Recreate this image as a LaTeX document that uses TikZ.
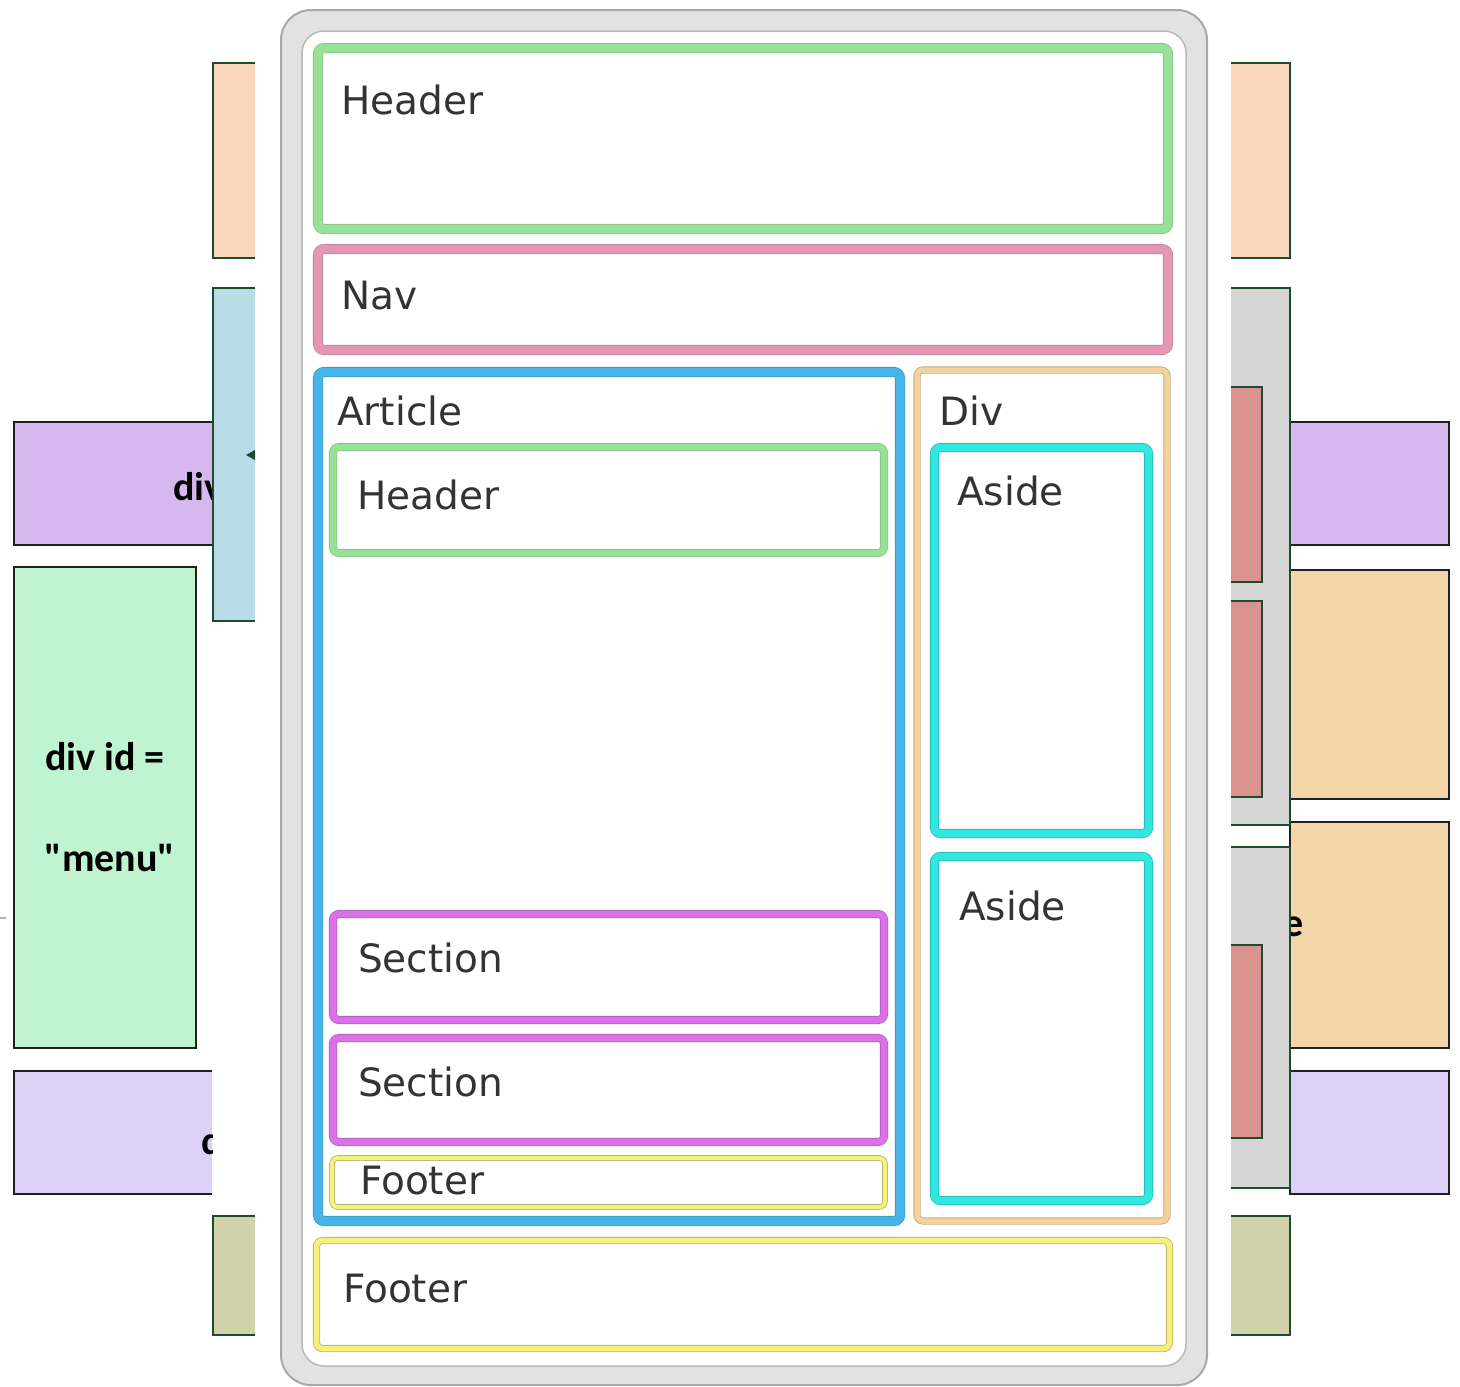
\documentclass[tikz,border=0pt]{standalone}
\usepackage{fontspec}
\setmainfont{DejaVu Sans}
\newfontfamily\calfont{Carlito}
\definecolor{peach}{HTML}{FAD7BC}
\definecolor{lblue}{HTML}{B8DDE6}
\definecolor{purp}{HTML}{D6B8EE}
\definecolor{mint}{HTML}{C0F4D0}
\definecolor{lav}{HTML}{DCD0F6}
\definecolor{olive}{HTML}{D2D2AA}
\definecolor{tan}{HTML}{F2D5A8}
\definecolor{gbox}{HTML}{D6D6D6}
\definecolor{rbox}{HTML}{DA9490}
\definecolor{dkg}{HTML}{1E4A2E}
\definecolor{bgk}{HTML}{202020}
\definecolor{frameout}{HTML}{E2E2E2}
\definecolor{frameln}{HTML}{A8A8A8}
\definecolor{txt}{HTML}{333333}
\definecolor{bgreen}{HTML}{98E298}\definecolor{egreen}{HTML}{8CBF8C}
\definecolor{bpink}{HTML}{E496B4}\definecolor{epink}{HTML}{C08898}
\definecolor{bblue}{HTML}{46B4E8}\definecolor{eblue}{HTML}{3A9AC8}
\definecolor{bmag}{HTML}{DC70E8}\definecolor{emag}{HTML}{B060C0}
\definecolor{byel}{HTML}{F4F27A}\definecolor{eyel}{HTML}{B8B470}
\definecolor{btan}{HTML}{F2D29E}\definecolor{etan}{HTML}{C8A878}
\definecolor{bcyan}{HTML}{30E8E0}\definecolor{ecyan}{HTML}{28B8B8}
\tikzset{
  bgedge/.style={draw=dkg, line width=2.5pt},
  bkedge/.style={draw=bgk, line width=2.5pt},
  band/.style n args={3}{draw=#2, line width=0.8pt, double=#1, double distance=#3, rounded corners=6pt},
  lbl/.style={anchor=base west, inner sep=0pt, text=txt, font=\fontsize{39}{47}\selectfont},
  bglbl/.style={inner sep=0pt, text=black, font=\calfont\bfseries\fontsize{40}{48}\selectfont},
}
\begin{document}
\begin{tikzpicture}[x=1pt,y=-1pt]
\useasboundingbox (0,0) rectangle (1460,1387);
\fill[white] (0,0) rectangle (1460,1387);
% ---------- background, left ----------
\fill[peach] (213,63) rectangle (255,258);
\draw[bgedge] (255,63) -- (213,63) -- (213,258) -- (255,258);
\fill[purp] (14,422) rectangle (213,545);
\draw[bkedge] (213,422) -- (14,422) -- (14,545) -- (213,545);
\begin{scope}
\clip (14,422) rectangle (213,545);
\node[bglbl, anchor=base west] (tdiv) at (173,500) {div};
\end{scope}
\fill[lblue] (213,288) rectangle (255,621);
\draw[bgedge] (255,288) -- (213,288) -- (213,621) -- (255,621);
\fill[dkg] (246,455) -- (255,450) -- (255,460) -- cycle;
\fill[mint] (14,567) rectangle (196,1048);
\draw[bkedge] (14,567) rectangle (196,1048);
\node[bglbl] (tdivid) at (105,757) {div id =};
\node[bglbl] (tmenu) at (110,858) {"menu"};
\fill[lav] (14,1071) rectangle (212,1194);
\draw[bkedge] (212,1071) -- (14,1071) -- (14,1194) -- (212,1194);
\begin{scope}
\clip (14,1071) rectangle (212,1194);
\node[bglbl, anchor=base west] (td) at (201,1154) {d};
\end{scope}
\fill[olive] (213,1216) rectangle (255,1335);
\draw[bgedge] (255,1216) -- (213,1216) -- (213,1335) -- (255,1335);
\draw[gray!60, line width=2pt] (0,918) -- (6,918);
% ---------- background, right ----------
\fill[peach] (1231,63) rectangle (1290,258);
\draw[bgedge] (1231,63) -- (1290,63) -- (1290,258) -- (1231,258);
\fill[purp] (1290,422) rectangle (1449,545);
\draw[bkedge] (1290,422) rectangle (1449,545);
\fill[tan] (1290,570) rectangle (1449,799);
\draw[bkedge] (1290,570) rectangle (1449,799);
\fill[tan] (1290,822) rectangle (1449,1048);
\draw[bkedge] (1290,822) rectangle (1449,1048);
\node[bglbl, anchor=base east] (te) at (1304,936) {e};
\fill[lav] (1290,1071) rectangle (1449,1194);
\draw[bkedge] (1290,1071) rectangle (1449,1194);
\fill[gbox] (1231,288) rectangle (1290,825);
\draw[bgedge] (1231,288) -- (1290,288) -- (1290,825) -- (1231,825);
\fill[rbox] (1231,387) rectangle (1262,582);
\draw[bgedge] (1231,387) -- (1262,387) -- (1262,582) -- (1231,582);
\fill[rbox] (1231,601) rectangle (1262,797);
\draw[bgedge] (1231,601) -- (1262,601) -- (1262,797) -- (1231,797);
\fill[gbox] (1231,847) rectangle (1290,1188);
\draw[bgedge] (1231,847) -- (1290,847) -- (1290,1188) -- (1231,1188);
\fill[rbox] (1231,945) rectangle (1262,1138);
\draw[bgedge] (1231,945) -- (1262,945) -- (1262,1138) -- (1231,1138);
\fill[olive] (1231,1216) rectangle (1290,1335);
\draw[bgedge] (1231,1216) -- (1290,1216) -- (1290,1335) -- (1231,1335);
% ---------- foreground frame ----------
\draw[fill=frameout, draw=frameln, line width=2pt, rounded corners=30pt] (281,10) rectangle (1207,1385);
\draw[fill=white, draw=frameln!80, line width=1.5pt, rounded corners=22pt] (302,31) rectangle (1186,1366);
% ---------- boxes ----------
\draw[band={bgreen}{egreen}{8.5pt}] (318,48) rectangle (1168,229);
\node[lbl] (hdr) at (341,114) {Header};
\draw[band={bpink}{epink}{8.5pt}] (318,249) rectangle (1168,350);
\node[lbl] (nav) at (341,309) {Nav};
\draw[band={bblue}{eblue}{8.5pt}] (318,372) rectangle (900,1221);
\node[lbl] (art) at (337,425) {Article};
\draw[band={bgreen}{egreen}{6.5pt}] (333,447) rectangle (884,553);
\node[lbl] (ahdr) at (357,509) {Header};
\draw[band={bmag}{emag}{6.5pt}] (333,914) rectangle (884,1020);
\node[lbl] (sec1) at (358,972) {Section};
\draw[band={bmag}{emag}{6.5pt}] (333,1038) rectangle (884,1142);
\node[lbl] (sec2) at (358,1096) {Section};
\draw[band={byel}{eyel}{4pt}] (332,1158) rectangle (885,1207);
\node[lbl] (afoot) at (360,1194) {Footer};
\draw[band={btan}{etan}{5.5pt}] (917,370) rectangle (1167,1221);
\node[lbl] (div) at (939,425) {Div};
\draw[band={bcyan}{ecyan}{7.5pt}] (934.5,447.5) rectangle (1148.5,833.5);
\node[lbl] (as1) at (957,505) {Aside};
\draw[band={bcyan}{ecyan}{7.5pt}] (934.5,856.5) rectangle (1148.5,1200.5);
\node[lbl] (as2) at (959,920) {Aside};
\draw[band={byel}{eyel}{5.5pt}] (316.5,1240.5) rectangle (1169.5,1348.5);
\node[lbl] (foot) at (343,1302) {Footer};
\end{tikzpicture}
\end{document}
